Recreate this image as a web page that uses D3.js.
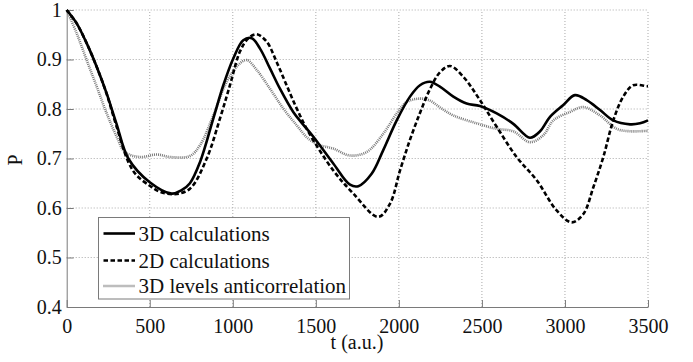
<!DOCTYPE html>
<html><head><meta charset="utf-8">
<script src="https://cdn.jsdelivr.net/npm/d3@7"></script>
<style>body{margin:0;background:#fff}svg{display:block}</style>
</head><body>
<script>
const xTicks = [0,500,1000,1500,2000,2500,3000,3500];
const yTicks = [0.4,0.5,0.6,0.7,0.8,0.9,1];
const yTickLabels = ["0.4","0.5","0.6","0.7","0.8","0.9","1"];
const seriesNames = ["3D calculations","2D calculations","3D levels anticorrelation"];

const t3D = [0,60,120,181,241,300,371,500,632,692,742,803,883,943,1003,1063,1114,1164,1224,1284,1364,1420,1485,1605,1706,1756,1836,1906,1987,2067,2127,2187,2247,2328,2408,2488,2589,2689,2789,2850,2910,2990,3060,3131,3211,3291,3392,3452,3500];
const p3D = [1,0.973,0.933,0.885,0.831,0.77,0.70,0.652,0.629,0.636,0.650,0.693,0.781,0.848,0.902,0.939,0.943,0.922,0.882,0.841,0.794,0.770,0.744,0.690,0.647,0.644,0.669,0.717,0.777,0.825,0.848,0.855,0.845,0.825,0.811,0.806,0.791,0.770,0.742,0.755,0.784,0.808,0.828,0.818,0.798,0.777,0.769,0.771,0.777];

const t2D = [0,60,120,181,241,300,371,421,500,560,650,742,843,923,983,1043,1094,1144,1204,1264,1324,1385,1455,1605,1726,1876,1947,2007,2067,2127,2187,2247,2308,2388,2488,2589,2709,2830,2950,3041,3111,3171,3231,3291,3351,3411,3492,3500];
const p2D = [1,0.973,0.933,0.885,0.830,0.765,0.693,0.666,0.645,0.633,0.628,0.639,0.70,0.781,0.848,0.916,0.943,0.951,0.936,0.895,0.848,0.801,0.754,0.676,0.629,0.582,0.609,0.676,0.738,0.792,0.840,0.874,0.887,0.865,0.818,0.764,0.703,0.656,0.595,0.571,0.588,0.642,0.703,0.777,0.825,0.848,0.846,0.846];

const tAC = [0,60,120,181,241,300,351,441,542,622,742,803,883,963,1033,1084,1144,1224,1304,1385,1455,1525,1605,1706,1806,1906,1987,2047,2127,2187,2248,2328,2469,2589,2689,2789,2870,2930,3030,3111,3211,3311,3392,3500];
const pAC = [1,0.953,0.899,0.845,0.791,0.745,0.713,0.703,0.708,0.703,0.705,0.727,0.787,0.855,0.889,0.899,0.879,0.841,0.801,0.767,0.740,0.727,0.720,0.706,0.713,0.750,0.791,0.814,0.821,0.817,0.803,0.787,0.771,0.760,0.755,0.733,0.747,0.777,0.794,0.804,0.787,0.760,0.755,0.756];

const W = 693, H = 362;
const svg = d3.select("body").append("svg").attr("width", W).attr("height", H);
const x = d3.scaleLinear().domain([0,3500]).range([66.7,648]);
const y = d3.scaleLinear().domain([0.4,1]).range([307,10]);
const font = "'Liberation Serif', 'Times New Roman', serif";
const axisCol = "#7a7a7a";

// grid
const g = svg.append("g");
g.selectAll(".gx").data(xTicks.slice(1)).enter().append("line")
  .attr("x1", d=>x(d)).attr("x2", d=>x(d)).attr("y1", y(0.4)).attr("y2", y(1))
  .attr("stroke", "#aaa").attr("stroke-width", 1).attr("stroke-dasharray", "1,2");
g.selectAll(".gy").data(yTicks.slice(1)).enter().append("line")
  .attr("x1", x(0)).attr("x2", x(3500)).attr("y1", d=>y(d)).attr("y2", d=>y(d))
  .attr("stroke", "#aaa").attr("stroke-width", 1).attr("stroke-dasharray", "1,2");

// axes
const xAxis = d3.axisBottom(x).tickValues(xTicks).tickSizeInner(-7).tickSizeOuter(0).tickPadding(12).tickFormat(d3.format("d"));
const ax = svg.append("g").attr("transform", `translate(0,${y(0.4)})`).call(xAxis);
ax.attr("font-family", font);
ax.select(".domain").attr("stroke", axisCol);
ax.selectAll(".tick line").attr("stroke", axisCol);
ax.selectAll(".tick text").attr("font-family", font).attr("font-size", 20).attr("fill", "#111");

const yAxis = d3.axisLeft(y).tickValues(yTicks).tickSizeInner(-7).tickSizeOuter(0).tickPadding(5)
  .tickFormat((d,i)=>yTickLabels[i]);
const ay = svg.append("g").attr("transform", `translate(${x(0)},0)`).call(yAxis);
ay.attr("font-family", font);
ay.select(".domain").attr("stroke", axisCol);
ay.selectAll(".tick line").attr("stroke", axisCol);
ay.selectAll(".tick text").attr("font-family", font).attr("font-size", 20).attr("fill", "#111");

// lines
const mk = (ts, ps) => ts.map((t,i)=>[t, ps[i]]);
const line = d3.line().x(d=>x(d[0])).y(d=>y(d[1])).curve(d3.curveCatmullRom.alpha(0.5));
const styles = [
  {stroke:"#000", w:2.6, dash:null},
  {stroke:"#000", w:2.6, dash:"4.5,2.5"},
  {stroke:"#7a7a7a", w:2.6, dash:"1,1"}
];
const data = [mk(tAC,pAC), mk(t2D,p2D), mk(t3D,p3D)];
const order = [2,1,0];
data.forEach((d,i)=>{
  const s = styles[order[i]];
  svg.append("path").attr("d", line(d)).attr("fill","none")
    .attr("stroke", s.stroke).attr("stroke-width", s.w)
    .attr("stroke-dasharray", s.dash).attr("stroke-linejoin","round");
});

// axis labels
svg.append("text").attr("x", 357).attr("y", 349).attr("text-anchor","middle")
  .attr("font-family", font).attr("font-size", 20).attr("fill","#111").text("t (a.u.)");
svg.append("text").attr("transform", "translate(22,160) rotate(-90)").attr("text-anchor","middle")
  .attr("font-family", font).attr("font-size", 20).attr("fill","#111").text("P");

// legend
const lg = svg.append("g");
lg.append("rect").attr("x", 98.5).attr("y", 217.5).attr("width", 251).attr("height", 81.5)
  .attr("fill","#fff").attr("stroke", axisCol).attr("stroke-width",1);
const rowsY = [233.5, 260.5, 286];
seriesNames.forEach((n,i)=>{
  const s = styles[i];
  lg.append("line").attr("x1",103.5).attr("x2",135).attr("y1",rowsY[i]).attr("y2",rowsY[i])
    .attr("stroke", s.stroke).attr("stroke-width", s.w).attr("stroke-dasharray", s.dash);
  lg.append("text").attr("x",138.5).attr("y",rowsY[i]).attr("dy","0.35em")
    .attr("font-family", font).attr("font-size", 21).attr("fill","#111").text(n);
});
</script>
</body></html>
